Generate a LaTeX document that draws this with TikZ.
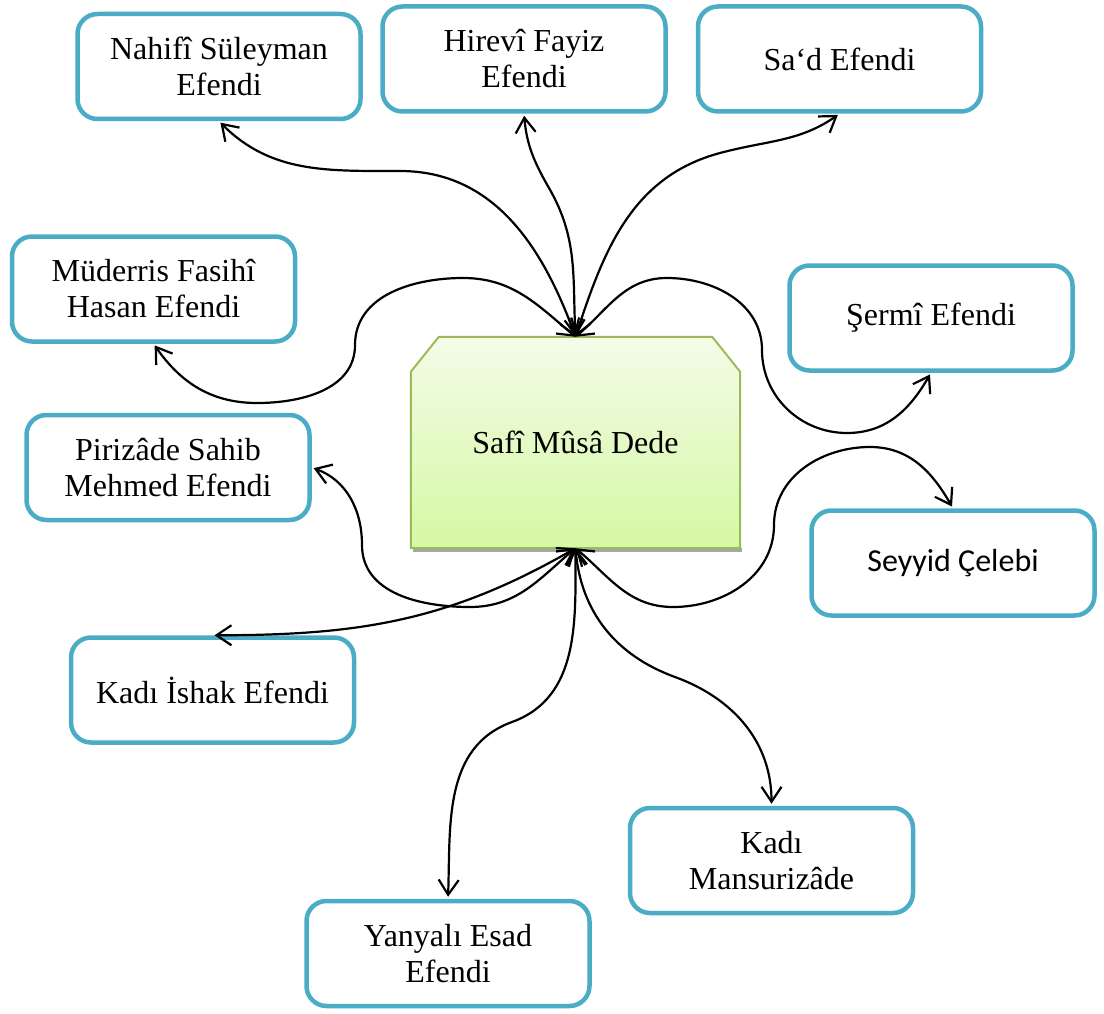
\documentclass[tikz,border=0pt]{standalone}
\usepackage{fontspec}
\setmainfont{Liberation Serif}
\newfontfamily\calibri{Carlito}
\usetikzlibrary{arrows.meta}
\pgfdeclarelayer{bg}
\pgfsetlayers{bg,main}
\definecolor{boxblue}{RGB}{75,172,198}
\definecolor{musaline}{RGB}{155,187,89}
\definecolor{musatop}{RGB}{243,252,233}
\definecolor{musabot}{RGB}{214,248,163}

\begin{document}
\begin{tikzpicture}
      [x=1pt,y=1pt
      ,box/.style={draw=boxblue,line width=4.5pt,rounded corners=20pt,fill=white
                  ,minimum width=283pt,minimum height=105pt,align=center
                  ,font=\fontsize{32}{36}\selectfont}
      ,ctr/.style={minimum width=329pt,minimum height=211pt,inner sep=0pt
                  ,font=\fontsize{32}{36}\selectfont}
      ,ctrfil/.style={draw=musaline,line width=2pt,top color=musatop,bottom color=musabot}
      ,lnk/.style={<->,>={Straight Barb[length=15pt,width=20pt]},line width=2.2pt,shorten >=2pt}
      ]
        \useasboundingbox (0,0) rectangle (1104,-1014);
        % people round the dede
        \node[box] (nahifi)   at (219,-66.5)   {Nahifî Süleyman\\Efendi};
        \node[box] (hirevi)   at (524,-59)     {Hirevî Fayiz\\Efendi};
        \node[box] (sad)      at (839.5,-59)   {Sa‘d Efendi};
        \node[box] (fasihi)   at (153.5,-289)  {Müderris Fasihî\\Hasan Efendi};
        \node[box] (sermi)    at (931,-318)    {Şermî Efendi};
        \node[box] (pirizade) at (168,-467.5)  {Pirizâde Sahib\\Mehmed Efendi};
        \node[box] (seyyid)   at (953,-563)    {\calibri Seyyid Çelebi};
        \node[box] (ishak)    at (212.5,-690)  {Kadı İshak Efendi};
        \node[box] (mansur)   at (771.5,-860.5){Kadı\\Mansurizâde};
        \node[box] (esad)     at (448,-953.5)  {Yanyalı Esad\\Efendi};
        % the dede
        \node[ctr] (musa) at (575.5,-442.5) {Safî Mûsâ Dede};
        \begin{pgfonlayer}{bg}
          \fill[gray!70] ([shift={(2pt,-4pt)}]musa.south west) rectangle ([xshift=2pt]musa.south east);
          \draw[ctrfil] (musa.south west) -- ([yshift=-35pt]musa.north west) -- ([xshift=28pt]musa.north west)
            -- ([xshift=-28pt]musa.north east) -- ([yshift=-35pt]musa.north east) -- (musa.south east) -- cycle;
        \end{pgfonlayer}
        % upper links
        \draw[lnk] (musa.north) to[out=110,in=0] (400,-171) to[out=180,in=-45] (nahifi.south);
        \draw[lnk] (musa.north) to[out=93,in=-60] (549,-188) to[out=120,in=-85] (hirevi.south);
        \draw[lnk] (musa.north) to[out=72,in=195] (720,-153) to[out=15,in=215] (sad.south);
        \draw[lnk] (musa.north) to[out=140,in=0] (463,-278) to[out=180,in=90] (355,-345)
          to[out=-90,in=0] (257,-403) to[out=180,in=-55] (fasihi.south);
        \draw[lnk] (musa.north) to[out=40,in=180] (667,-278) to[out=0,in=90] (762,-350)
          to[out=-90,in=180] (847,-433) to[out=0,in=-120] (sermi.south);
        % lower links
        \draw[lnk] (musa.south) to[out=-140,in=0] (470,-607) to[out=180,in=-90] (362,-545)
          to[out=90,in=-20] (pirizade.east);
        \draw[lnk] (musa.south) to[out=-150,in=0] (ishak.north);
        \draw[lnk] (musa.south) to[out=-90,in=20] (512,-722) to[out=200,in=88] (esad.north);
        \draw[lnk] (musa.south) to[out=-85,in=160] (675,-677) to[out=-20,in=90] (mansur.north);
        \draw[lnk] (musa.south) to[out=-40,in=180] (673,-607) to[out=0,in=-90] (774,-525)
          to[out=90,in=180] (870,-447) to[out=0,in=120] (seyyid.north);
      \end{tikzpicture}
\end{document}
